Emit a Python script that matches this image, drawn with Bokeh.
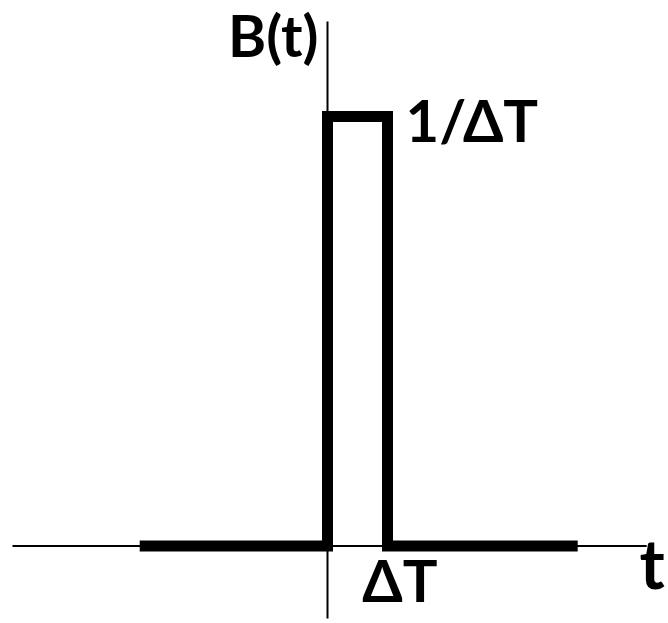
from bokeh.plotting import figure
from bokeh.models import Range1d
from bokeh.core.properties import value
from bokeh.embed import file_html
from bokeh.resources import INLINE

# Box function B(t): zero, then 1/ΔT on [0, ΔT], then zero (ΔT = 1)
pulse_t = [-3.13, 0, 0, 1, 1, 4.17]
pulse_b = [0, 0, 1, 1, 0, 0]

# Coordinate axes drawn as thin lines
haxis_t = [-5.25, 5.32]
haxis_b = [0, 0]
vaxis_t = [0, 0]
vaxis_b = [-0.169, 1.221]

# Labels
label_text = ["B(t)", "1/ΔT", "ΔT"]
label_t = [-0.15, 1.3, 0.58]
label_b = [1.19, 0.992, -0.078]
label_align = ["right", "left", "left"]
t_label = ["t"]
t_label_t = [5.2]
t_label_b = [-0.038]

p = figure(width=668, height=623, output_backend="svg", toolbar_location=None,
           x_range=Range1d(-5.45, 5.6833), y_range=Range1d(-0.1804, 1.2701),
           min_border=0, outline_line_color=None)
p.axis.visible = False
p.grid.visible = False
p.background_fill_color = "white"
p.border_fill_color = "white"

p.line(haxis_t, haxis_b, line_color="black", line_width=2)
p.line(vaxis_t, vaxis_b, line_color="black", line_width=2)
p.line(pulse_t, pulse_b, line_color="black", line_width=11,
       line_join="miter", line_cap="butt")

for txt, x, y, al in zip(label_text, label_t, label_b, label_align):
    p.text(x=[x], y=[y], text=[txt], text_font=value("Lato"), text_font_style="bold",
           text_font_size="58px", text_align=al, text_baseline="alphabetic",
           text_color="black")

p.text(x=t_label_t, y=t_label_b, text=t_label, text_font=value("Lato"),
       text_font_style="bold", text_font_size="68px", text_align="left",
       text_baseline="alphabetic", text_color="black")

open("out.html", "w").write(file_html(p, INLINE))
